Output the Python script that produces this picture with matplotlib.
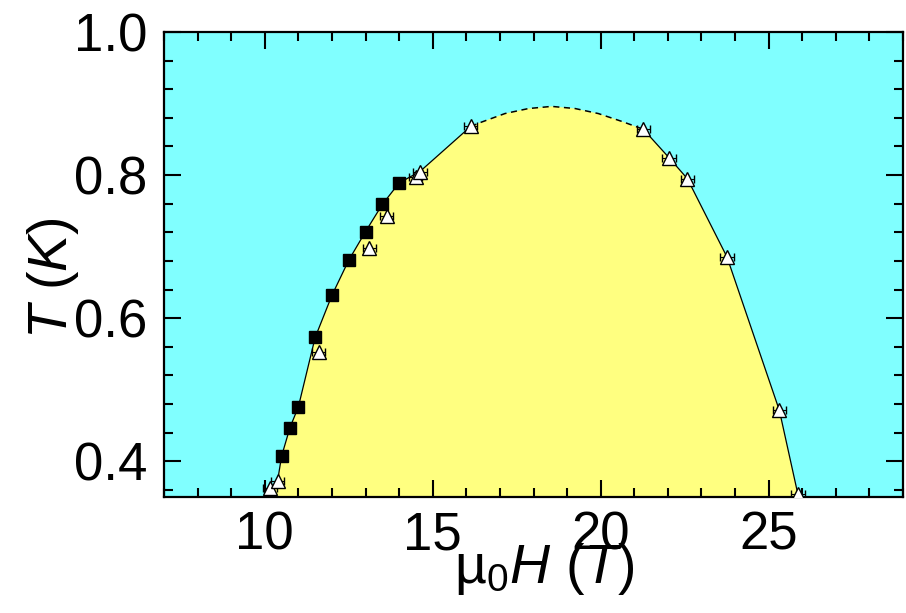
import matplotlib
matplotlib.use("Agg")
import matplotlib.pyplot as plt
from matplotlib.ticker import MultipleLocator

plt.rcParams['font.family'] = ['Liberation Sans', 'DejaVu Sans']
plt.rcParams['mathtext.fontset'] = 'custom'
plt.rcParams['mathtext.rm'] = 'Liberation Sans'
plt.rcParams['mathtext.it'] = 'Liberation Sans:italic'
plt.rcParams['mathtext.bf'] = 'Liberation Sans:bold'

# Measured transition points (field in T, temperature in K)
sq_H = [10.5, 10.75, 11.0, 11.5, 12.0, 12.5, 13.0, 13.5, 14.0]
sq_T = [0.407, 0.447, 0.476, 0.573, 0.632, 0.681, 0.721, 0.759, 0.789]
sq_Terr = [0.007] * len(sq_H)

tri_H = [10.16, 10.38, 11.6, 13.11, 13.63, 14.49, 14.62, 16.13,
         21.27, 22.04, 22.58, 23.76, 25.32, 25.87]
tri_T = [0.362, 0.372, 0.552, 0.6985, 0.743, 0.798, 0.805, 0.868,
         0.864, 0.824, 0.795, 0.6855, 0.471, 0.354]
tri_Herr = [0.2] * len(tri_H)

# Phase boundary: solid flanks and dashed dome between them
left_H = [10.05, 10.16, 10.38, 10.5, 10.75, 11.0, 11.5, 12.0, 12.5,
          13.0, 13.5, 14.0, 14.62, 16.13]
left_T = [0.345, 0.362, 0.372, 0.407, 0.447, 0.476, 0.573, 0.632, 0.681,
          0.721, 0.759, 0.789, 0.805, 0.868]
dome_H = [16.13, 16.45, 17.15, 17.85, 18.54, 19.24, 19.93, 20.63, 21.27]
dome_T = [0.868, 0.874, 0.886, 0.893, 0.896, 0.893, 0.886, 0.875, 0.864]
right_H = [21.27, 22.04, 22.58, 23.76, 25.32, 25.87, 25.92]
right_T = [0.864, 0.824, 0.795, 0.6855, 0.471, 0.354, 0.345]

x_ticks = [10, 15, 20, 25]
y_ticks = [0.4, 0.6, 0.8, 1.0]

cyan = '#80FFFF'
yellow = '#FFFF80'

fig = plt.figure(figsize=(9.06, 6.13), dpi=100)
ax = fig.add_axes([164 / 906, 1 - 497 / 613, (903 - 164) / 906, (497 - 32) / 613])
ax.set_facecolor(cyan)

bound_H = left_H + dome_H[1:] + right_H[1:]
bound_T = left_T + dome_T[1:] + right_T[1:]
ax.fill_between(bound_H, bound_T, 0.0, color=yellow, lw=0, zorder=1)

ax.plot(left_H, left_T, color='black', lw=0.9, zorder=2)
ax.plot(right_H, right_T, color='black', lw=0.9, zorder=2)
ax.plot(dome_H, dome_T, color='black', lw=1.1, ls=(0, (4, 3)), zorder=2)

ax.errorbar(tri_H, tri_T, xerr=tri_Herr, fmt='^', ms=10, mfc='white',
            mec='black', mew=1.0, ecolor='black', elinewidth=0.8,
            capsize=3, capthick=0.8, zorder=3)
ax.errorbar(sq_H, sq_T, yerr=sq_Terr, fmt='s', ms=8, mfc='black',
            mec='black', ecolor='black', elinewidth=0.8,
            capsize=4, capthick=0.8, zorder=4)

ax.set_xlim(7, 29)
ax.set_ylim(0.35, 1.0)
ax.set_xticks(x_ticks)
ax.set_yticks(y_ticks)
ax.set_xticklabels([str(v) for v in x_ticks])
ax.set_yticklabels([f'{v:.1f}' for v in y_ticks])
ax.xaxis.set_minor_locator(MultipleLocator(1))
ax.yaxis.set_minor_locator(MultipleLocator(0.04))

ax.tick_params(which='both', direction='in', top=True, right=True,
               width=1.5, colors='black')
ax.tick_params(which='major', length=12.5, labelsize=38, pad=10)
ax.tick_params(which='minor', length=6.3)
ax.tick_params(axis='y', which='major', pad=12)
for sp in ax.spines.values():
    sp.set_linewidth(1.6)

ax.set_xlabel('$\\mathrm{µ}_0\\mathit{H}$ ($\\mathit{T}$)', fontsize=40)
ax.set_ylabel('$\\mathit{T}$ ($\\mathit{K}$)', fontsize=40)
ax.xaxis.set_label_coords(0.514, -0.095)
ax.yaxis.set_label_coords(-0.112, 0.47)

fig.savefig('out.png', dpi=100)
